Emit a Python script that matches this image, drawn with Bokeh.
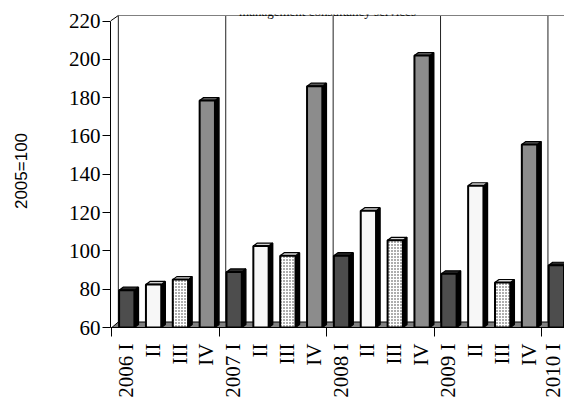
import math
from bokeh.plotting import figure
from bokeh.models import Range1d, FixedTicker, Label
from bokeh.embed import file_html
from bokeh.resources import INLINE

# ---------------- data ----------------
years = ["2006", "2007", "2008", "2009", "2010"]
quarters = ["I", "II", "III", "IV"]
q1 = [79.5, 89.0, 97.5, 88.0, 92.5]
q2 = [82.5, 102.5, 121.0, 134.0]
q3 = [85.0, 97.5, 105.5, 83.5]
q4 = [178.5, 186.0, 202.0, 155.5]
y_ticks = [60, 80, 100, 120, 140, 160, 180, 200, 220]
y_label = "2005=100"
title_text = "management consultancy services"

# ---------------- styles / layout ----------------
quarter_fill = ["#4d4d4d", "#f7f7f7", "#ffffff", "#8c8c8c"]
quarter_top = ["#2a2a2a", "#d0d0d0", "#d8d8d8", "#5a5a5a"]
W, H = 564, 401
B_LEFT, B_TOP, B_BOTTOM = 110, 14, 74
PX_Q = 26.85                        # pixels per quarter slot
Y0 = 60
PPU = (327 - 20.5) / 160.0          # pixels per index unit
XL = -0.57                          # frame left (axis line)
XB = -0.52                          # first year boundary
frame_w = W - B_LEFT
frame_h = H - B_TOP - B_BOTTOM
X_END = XL + frame_w / PX_Q
Y_END = Y0 + frame_h / PPU
WALL_DX, WALL_DY = 6.5 / PX_Q, 5.5 / PPU
BAR_DX, BAR_DY = 4.0 / PX_Q, 3.0 / PPU
BAR_L, BAR_R = -0.25, 0.32

series = [q1, q2, q3, q4]
n_slots = len(q1) + len(q2) + len(q3) + len(q4)
labels = []
for i in range(n_slots):
    k, j = divmod(i, 4)
    labels.append(f"{years[k]} {quarters[j]}" if j == 0 else quarters[j])

p = figure(width=W, height=H, output_backend="svg", toolbar_location=None,
           x_range=Range1d(XL, X_END), y_range=Range1d(Y0, Y_END),
           min_border_left=B_LEFT, min_border_right=0,
           min_border_top=B_TOP, min_border_bottom=B_BOTTOM)
p.outline_line_color = None
p.xgrid.visible = False
p.ygrid.visible = False
p.background_fill_color = "white"

bounds = [XB + 4 * k for k in range(len(years))]
top_y = y_ticks[-1]

# floor
p.patch([bounds[0], bounds[0] + WALL_DX, X_END, X_END], [Y0, Y0 + WALL_DY, Y0 + WALL_DY, Y0],
        fill_color="#808080", line_color="black", line_width=1)

# back wall lines
p.segment(x0=[b + WALL_DX for b in bounds], y0=[Y0 + WALL_DY] * len(bounds),
          x1=[b + WALL_DX for b in bounds], y1=[top_y + WALL_DY] * len(bounds),
          line_color="#222222", line_width=1)
p.segment(x0=[bounds[0] + WALL_DX], y0=[top_y + WALL_DY], x1=[X_END], y1=[top_y + WALL_DY],
          line_color="#808080", line_width=1.2)
p.segment(x0=[XL], y0=[top_y], x1=[bounds[0] + WALL_DX], y1=[top_y + WALL_DY],
          line_color="black", line_width=1)

# bars
for j, vals in enumerate(series):
    xs = [4 * k + j for k in range(len(vals))]
    lefts = [x + BAR_L for x in xs]
    rights = [x + BAR_R for x in xs]
    side_xs = [[r, r + BAR_DX, r + BAR_DX, r] for r in rights]
    side_ys = [[Y0, Y0 + BAR_DY, v + BAR_DY, v] for v in vals]
    top_xs = [[l, l + BAR_DX, r + BAR_DX, r] for l, r in zip(lefts, rights)]
    top_ys = [[v, v + BAR_DY, v + BAR_DY, v] for v in vals]
    p.patches(side_xs, side_ys, fill_color="black", line_color="black", line_width=1.5)
    p.patches(top_xs, top_ys, fill_color=quarter_top[j], line_color="black", line_width=1.2)
    kw = {}
    if j == 2:
        kw = dict(hatch_pattern="dot", hatch_color="#333333", hatch_scale=3.0, hatch_weight=1.0)
    p.quad(left=lefts, right=rights, bottom=[Y0] * len(vals), top=vals,
           fill_color=quarter_fill[j], line_color="black", line_width=2, **kw)

# y axis
ya = p.yaxis[0]
ya.ticker = FixedTicker(ticks=y_ticks)
ya.bounds = (y_ticks[0], y_ticks[-1])
ya.major_tick_out = 8
ya.major_tick_in = 0
ya.minor_tick_out = 0
ya.minor_tick_in = 0
ya.axis_line_color = "black"
ya.major_tick_line_color = "black"
ya.major_label_text_font = "Liberation Serif"
ya.major_label_text_font_size = "21px"
ya.major_label_text_color = "black"
ya.major_label_standoff = 2
ya.axis_label = y_label
ya.axis_label_text_font = "Liberation Sans"
ya.axis_label_text_font_size = "17px"
ya.axis_label_text_font_style = "normal"
ya.axis_label_text_color = "black"
ya.axis_label_standoff = 35

# x axis
xa = p.xaxis[0]
xa.ticker = FixedTicker(ticks=list(range(n_slots)), minor_ticks=bounds)
xa.major_label_overrides = {i: labels[i] for i in range(n_slots)}
xa.major_tick_out = 0
xa.major_tick_in = 0
xa.minor_tick_out = 9
xa.minor_tick_in = 0
xa.minor_tick_line_color = "black"
xa.axis_line_color = "black"
xa.major_label_orientation = math.pi / 2
xa.major_label_standoff = 7
xa.major_label_text_font = "Liberation Serif"
xa.major_label_text_font_size = "21px"
xa.major_label_text_color = "black"

# title, kept fully inside the strip above the plot
title_x = XL + (327 - 110) / PX_Q
title_y = Y0 + (327 - 10.5) / PPU
p.add_layout(Label(x=title_x, y=title_y, text=title_text, text_align="center",
                   text_baseline="alphabetic", text_font="Liberation Serif",
                   text_font_size="13px", text_color="black"))

open("out.html", "w").write(file_html(p, INLINE))
